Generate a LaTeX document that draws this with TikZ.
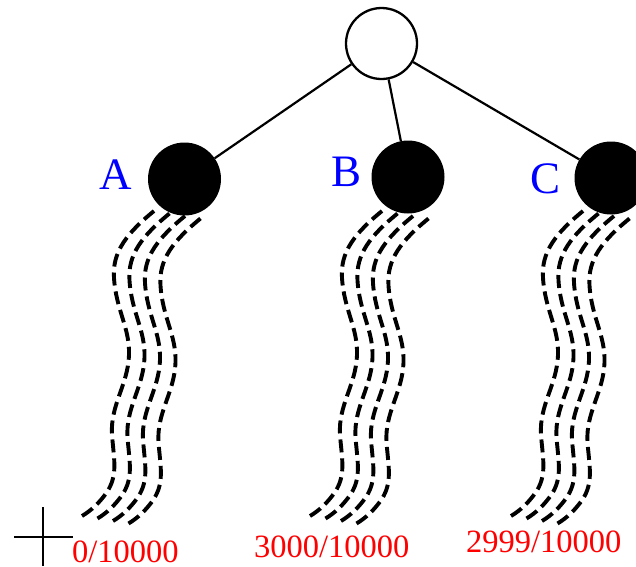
\documentclass[tikz,border=0pt]{standalone}
\usepackage{fontspec}
\setmainfont{Liberation Serif}
\begin{document}
\begin{tikzpicture}[x=1pt,y=-1pt,
  rootnode/.style={circle,draw,line width=2.3pt,fill=white,minimum size=71pt,inner sep=0pt},
  leafnode/.style={circle,fill=black,minimum size=73pt,inner sep=0pt},
  edge/.style={line width=2.2pt},
  letter/.style={text=blue,font=\fontsize{45}{50}\selectfont,inner sep=0pt,anchor=base west},
  frac/.style={text=red,font=\fontsize{32.5}{36}\selectfont,inner sep=0pt,anchor=base west},
  strand/.style={line width=3.9pt,dash pattern=on 13pt off 6pt},
  crossmark/.style={line width=1.8pt}]
\useasboundingbox (0,0) rectangle (636,566);
\clip (0,0) rectangle (636,566);
\newcommand{\strandgroup}[1]{%
  \foreach \k in {0,1,2,3}{%
    \begin{scope}[shift={(#1+15.5*\k,2.5*\k)}]
      \draw[strand] (382,211) .. controls (355,233) and (340,252) .. (342,278)
        .. controls (344,310) and (358,328) .. (357,355)
        .. controls (356,385) and (338,405) .. (340,435)
        .. controls (342,460) and (346,475) .. (335,492)
        .. controls (328,502) and (320,510) .. (310,516);
    \end{scope}}}
\strandgroup{-228}
\strandgroup{0}
\strandgroup{201}
\node[rootnode] (root) at (381.5,43.5) {};
\node[leafnode] (A) at (184.5,179) {};
\node[leafnode] (B) at (408,177) {};
\node[leafnode] (C) at (611,178) {};
\draw[edge] (root) -- (A);
\draw[edge] (root) -- (B);
\draw[edge] (root) -- (C);
\node[letter] (la) at (99.5,189) {A};
\node[letter] (lb) at (331,186) {B};
\node[letter] (lc) at (530,193) {C};
\node[frac] (fa) at (72,562) {0/10000};
\node[frac] (fb) at (254,557) {3000/10000};
\node[frac] (fc) at (466,552) {2999/10000};
\coordinate (h1) at (14,537);
\coordinate (h2) at (73,537);
\coordinate (v1) at (43,507);
\coordinate (v2) at (43,566);
\draw[crossmark] (h1) -- (h2);
\draw[crossmark] (v1) -- (v2);
\end{tikzpicture}
\end{document}
